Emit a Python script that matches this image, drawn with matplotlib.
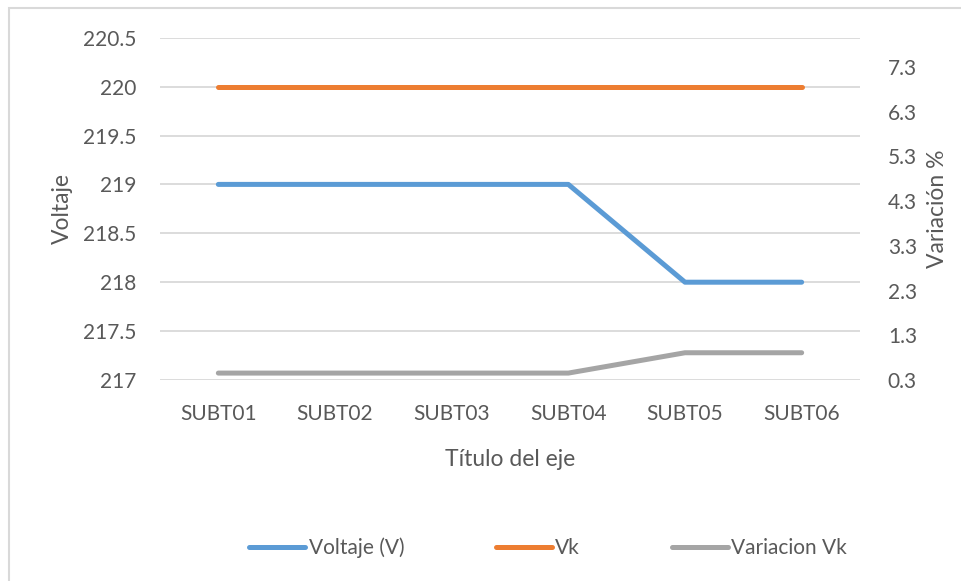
import matplotlib
matplotlib.use('Agg')

import matplotlib.pyplot as plt
from matplotlib.patches import Rectangle
from matplotlib.lines import Line2D

categories = ['SUBT01', 'SUBT02', 'SUBT03', 'SUBT04', 'SUBT05', 'SUBT06']
voltaje = [219, 219, 219, 219, 218, 218]
vk = [220, 220, 220, 220, 220, 220]
variacion_vk = [0.4545, 0.4545, 0.4545, 0.4545, 0.9091, 0.9091]

left_ticks = [217, 217.5, 218, 218.5, 219, 219.5, 220, 220.5]
left_labels = ['217', '217.5', '218', '218.5', '219', '219.5', '220', '220.5']
right_ticks = [0.3, 1.3, 2.3, 3.3, 4.3, 5.3, 6.3, 7.3]

plt.rcParams['font.family'] = ['Lato', 'DejaVu Sans']
txt = '#595959'
grid = '#D9D9D9'
c_blue, c_orange, c_gray = '#5B9BD5', '#ED7D31', '#A5A5A5'
fs = 15
fs_title = 16.5

fig = plt.figure(figsize=(9.61, 5.81), dpi=100)
ax1 = fig.add_axes([160 / 961, 1 - 380 / 581, 700 / 961, (380 - 37.7) / 581])
ax2 = ax1.twinx()

x = list(range(len(categories)))
lw = 3.6
ax1.plot(x, voltaje, color=c_blue, lw=lw, solid_capstyle='round', solid_joinstyle='round', zorder=3)
ax1.plot(x, vk, color=c_orange, lw=lw, solid_capstyle='round', solid_joinstyle='round', zorder=3)
ax2.plot(x, variacion_vk, color=c_gray, lw=lw, solid_capstyle='round', solid_joinstyle='round', zorder=3)

ax1.set_xlim(-0.5, 5.5)
ax1.set_ylim(217, 220.5)
ax2.set_ylim(0.3, 7.95)

ax1.set_yticks(left_ticks)
ax1.set_yticklabels(left_labels)
ax2.set_yticks(right_ticks)
ax2.set_yticklabels([f'{v:.1f}' for v in right_ticks])
ax1.set_xticks(x)
ax1.set_xticklabels(categories)

for a in (ax1, ax2):
    for s in a.spines.values():
        s.set_visible(False)
    a.tick_params(length=0, colors=txt, labelsize=fs)

ax1.yaxis.grid(True, color=grid, lw=1.3)
ax1.set_axisbelow(True)
ax1.tick_params(axis='y', pad=17)
ax1.tick_params(axis='x', pad=17)
ax2.tick_params(axis='y', pad=20)

ax1.set_ylabel('Voltaje', color=txt, fontsize=fs_title, labelpad=7)
ax2.set_ylabel('Variación %', color=txt, fontsize=fs_title, labelpad=7)
ax1.set_xlabel('Título del eje', color=txt, fontsize=fs_title, labelpad=18)

handles = [Line2D([], [], color=c, lw=lw, solid_capstyle='round') for c in (c_blue, c_orange, c_gray)]
fig.legend(handles, ['Voltaje (V)', 'Vk', 'Variacion Vk'], loc='center',
           bbox_to_anchor=(548 / 961, 1 - 548 / 581), ncol=3, frameon=False,
           fontsize=fs, labelcolor=txt, handlelength=2.7, handletextpad=0.15,
           columnspacing=4.4)

fig.patches.append(Rectangle((9 / 961, -0.1), 1.2, 1.1 - 8 / 581, transform=fig.transFigure,
                             fill=False, edgecolor='#D9D9D9', lw=1.5))

fig.savefig('out.png', dpi=100)
